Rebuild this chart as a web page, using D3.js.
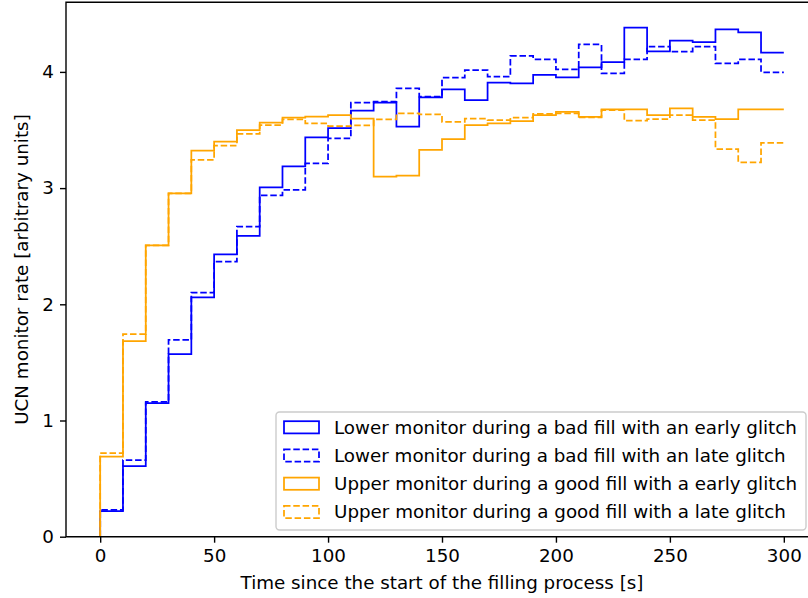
<!DOCTYPE html>
<html>
<head>
<meta charset="utf-8">
<script src="https://cdn.jsdelivr.net/npm/d3@7"></script>
<style>
  body { margin: 0; background: #fff; }
  text { font-family: "DejaVu Sans", sans-serif; }
</style>
</head>
<body>
<div id="chart"></div>
<script>
// bin edges (s), 10 s wide
var binEdges = d3.range(0, 301, 10);

// rates per bin
var lowerEarly = [0.22, 0.608, 1.15, 1.572, 2.06, 2.43, 2.588, 3.007, 3.188, 3.437,
  3.517, 3.666, 3.735, 3.528, 3.781, 3.85, 3.758, 3.907, 3.902, 3.975,
  3.953, 4.04, 4.085, 4.38, 4.177, 4.269, 4.257, 4.365, 4.34, 4.165];
var lowerLate = [0.23, 0.66, 1.16, 1.693, 2.1, 2.367, 2.668, 2.938, 2.984, 3.213,
  3.427, 3.735, 3.744, 3.859, 3.787, 3.95, 4.016, 3.959, 4.137, 4.108,
  4.022, 4.237, 3.988, 4.108, 4.217, 4.174, 4.217, 4.074, 4.108, 3.997];
var upperEarly = [0.69, 1.684, 2.508, 2.955, 3.322, 3.4, 3.5, 3.563, 3.606, 3.615,
  3.629, 3.597, 3.098, 3.107, 3.328, 3.422, 3.543, 3.557, 3.577, 3.629,
  3.657, 3.614, 3.678, 3.678, 3.629, 3.687, 3.614, 3.594, 3.678, 3.678];
var upperLate = [0.72, 1.744, 2.508, 2.955, 3.242, 3.365, 3.466, 3.543, 3.592, 3.558,
  3.534, 3.54, 3.592, 3.643, 3.635, 3.569, 3.597, 3.586, 3.606, 3.638,
  3.643, 3.609, 3.672, 3.58, 3.594, 3.629, 3.586, 3.336, 3.222, 3.39];

var seriesNames = [
  "Lower monitor during a bad fill with an early glitch",
  "Lower monitor during a bad fill with an late glitch",
  "Upper monitor during a good fill with a early glitch",
  "Upper monitor during a good fill with a late glitch"
];
var seriesColors = ["blue", "blue", "orange", "orange"];
var seriesDashed = [false, true, false, true];
var seriesValues = [lowerEarly, lowerLate, upperEarly, upperLate];

var xTicks = [0, 50, 100, 150, 200, 250, 300];
var yTicks = [0, 1, 2, 3, 4];

// svg size and axes box (right spine falls outside the picture)
var W = 808, H = 598;
var box = { left: 66, top: 2.3, right: 818, bottom: 536.7 };
var fontSize = 18.3;

var svg = d3.select("#chart").append("svg")
  .attr("width", W)
  .attr("height", H);

var yMax = d3.max(seriesValues, function(s) { return d3.max(s); }) * 1.05;

var xScale = d3.scaleLinear()
  .domain([-15, 315])
  .range([box.left, box.right]);

var yScale = d3.scaleLinear()
  .domain([0, yMax])
  .range([box.bottom, box.top]);

// step outlines
var stepLine = d3.line()
  .x(function(d) { return xScale(d[0]); })
  .y(function(d) { return yScale(d[1]); })
  .curve(d3.curveStepAfter);

seriesValues.forEach(function(vals, k) {
  var pts = [[binEdges[0], 0]];
  vals.forEach(function(v, i) { pts.push([binEdges[i], v]); });
  pts.push([binEdges[binEdges.length - 1], vals[vals.length - 1]]);

  svg.append("path")
    .attr("d", stepLine(pts))
    .attr("fill", "none")
    .attr("stroke", seriesColors[k])
    .attr("stroke-width", 1.75)
    .attr("stroke-dasharray", seriesDashed[k] ? "6.5,2.8" : null);
});

// axes
var xAxis = d3.axisBottom(xScale)
  .tickValues(xTicks)
  .tickFormat(d3.format("d"))
  .tickSizeInner(6)
  .tickSizeOuter(0)
  .tickPadding(6);

var yAxis = d3.axisLeft(yScale)
  .tickValues(yTicks)
  .tickFormat(d3.format("d"))
  .tickSizeInner(6)
  .tickSizeOuter(0)
  .tickPadding(6);

var gx = svg.append("g")
  .attr("transform", "translate(0," + box.bottom + ")")
  .call(xAxis);

var gy = svg.append("g")
  .attr("transform", "translate(" + box.left + ",0)")
  .call(yAxis);

[gx, gy].forEach(function(g) {
  g.select(".domain").remove();
  g.selectAll("line").attr("stroke", "#000").attr("stroke-width", 1.4);
  g.selectAll("text")
    .attr("fill", "#000")
    .style("font-size", fontSize + "px")
    .style("font-family", "DejaVu Sans");
});

// spines
svg.append("path")
  .attr("d", "M" + box.right + "," + box.top + "H" + box.left + "V" + box.bottom + "H" + box.right)
  .attr("fill", "none")
  .attr("stroke", "#000")
  .attr("stroke-width", 1.4);

// axis labels
svg.append("text")
  .text("Time since the start of the filling process [s]")
  .attr("x", (box.left + box.right) / 2)
  .attr("y", 589)
  .attr("text-anchor", "middle")
  .style("font-size", fontSize + "px");

svg.append("text")
  .text("UCN monitor rate [arbitrary units]")
  .attr("transform", "translate(28," + (box.top + box.bottom) / 2 + ") rotate(-90)")
  .attr("text-anchor", "middle")
  .style("font-size", fontSize + "px");

// legend
var legend = svg.append("g");

legend.append("rect")
  .attr("x", 276)
  .attr("y", 412)
  .attr("width", 530)
  .attr("height", 118)
  .attr("rx", 3.5)
  .attr("fill", "#fff")
  .attr("fill-opacity", 0.8)
  .attr("stroke", "#ccc")
  .attr("stroke-width", 1.4);

seriesNames.forEach(function(name, i) {
  var cy = 427.2 + i * 28.2;
  legend.append("rect")
    .attr("x", 284)
    .attr("y", cy - 6)
    .attr("width", 35)
    .attr("height", 12.2)
    .attr("fill", "none")
    .attr("stroke", seriesColors[i])
    .attr("stroke-width", 1.75)
    .attr("stroke-dasharray", seriesDashed[i] ? "6.5,2.8" : null);
  legend.append("text")
    .text(name)
    .attr("x", 334)
    .attr("y", cy + 6.5)
    .attr("fill", "#000")
    .style("font-size", fontSize + "px");
});
</script>
</body>
</html>
